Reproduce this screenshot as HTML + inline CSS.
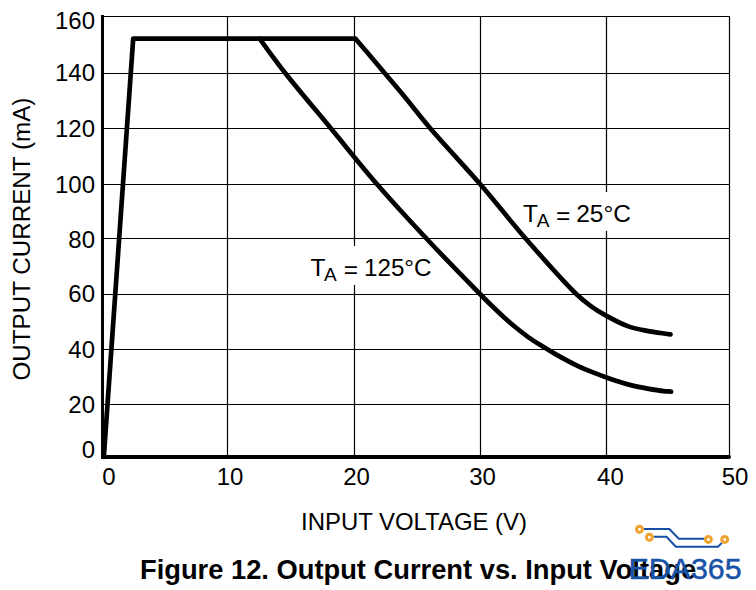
<!DOCTYPE html>
<html><head><meta charset="utf-8">
<style>
html,body{margin:0;padding:0;background:#fff;}
svg{display:block;}
text{font-family:"Liberation Sans",sans-serif;fill:#000;}
</style></head>
<body>
<svg width="756" height="590" viewBox="0 0 756 590">
<rect width="756" height="590" fill="#fff"/>
<g stroke="#000" stroke-width="1.2" fill="none">
<path d="M227.5 16V457M354.5 16V457M480.5 16V457M606.5 16V457M729.5 16V457"/>
<path d="M102 16.5H730M102 73.5H730M102 128.5H730M102 184.5H730M102 238.5H730M102 294.5H730M102 349.5H730M102 404.5H730"/>
</g>
<rect x="600" y="192" width="13" height="39" fill="#fff"/>
<rect x="348" y="246" width="13" height="39" fill="#fff"/>
<rect x="101" y="15" width="3" height="444" fill="#000"/>
<rect x="101" y="455" width="628" height="4" fill="#000"/><path d="M728 457H729" stroke="#000" stroke-width="4" stroke-linecap="round"/>
<g stroke="#000" stroke-width="4.7" fill="none" stroke-linejoin="round" stroke-linecap="round">
<path d="M103.8 457L133.2 38.7L355.5 38.7C365.33 50.30 376.25 63.16 385.00 73.50C392.03 81.81 397.19 87.78 404.00 96.00C412.12 105.81 420.03 116.34 430.40 128.50C444.29 144.79 464.39 165.87 480.50 184.50C496.09 202.53 509.88 220.51 525.60 238.50C541.93 257.18 564.67 283.01 576.80 294.50C582.81 300.19 586.21 302.71 591.20 306.30C596.12 309.83 600.85 312.78 606.50 315.90C613.04 319.51 621.18 323.86 628.30 326.40C634.65 328.66 640.38 329.61 647.00 330.90C654.36 332.33 662.67 333.23 670.50 334.40"/>
<path d="M259.5 38.7C268.20 50.30 275.53 60.71 285.60 73.50C298.49 89.88 315.79 110.09 331.00 128.50C346.35 147.09 361.42 166.19 377.30 184.50C393.22 202.85 409.50 220.46 426.40 238.50C443.86 257.13 469.44 283.25 480.50 294.50C485.33 299.41 487.35 301.46 491.00 305.00C494.86 308.75 499.03 312.70 503.10 316.40C507.10 320.03 511.01 323.56 515.20 327.00C519.50 330.53 524.06 334.08 528.60 337.30C533.03 340.44 537.63 343.29 542.10 346.10C546.43 348.82 550.09 351.11 555.00 353.90C561.32 357.49 569.90 362.23 577.00 365.60C583.39 368.63 589.23 370.91 595.60 373.40C602.19 375.98 609.52 378.71 615.90 380.80C621.46 382.62 626.40 384.10 631.70 385.40C636.96 386.69 642.29 387.65 647.60 388.60C652.89 389.55 659.16 390.62 663.50 391.10C666.49 391.43 668.57 391.43 671.10 391.60"/>
</g>
<g font-size="24" text-anchor="end">
<text x="95" y="29">160</text>
<text x="95" y="81">140</text>
<text x="95" y="137">120</text>
<text x="95" y="193">100</text>
<text x="95" y="248">80</text>
<text x="95" y="301.6">60</text>
<text x="95" y="358">40</text>
<text x="95" y="413">20</text>
<text x="95" y="457.7">0</text>
</g>
<g font-size="24" text-anchor="middle">
<text x="109" y="485">0</text>
<text x="230" y="485">10</text>
<text x="356.5" y="485">20</text>
<text x="482.5" y="485">30</text>
<text x="610.4" y="485">40</text>
<text x="735" y="485">50</text>
</g>
<text x="301" y="530" font-size="24.5" textLength="226" lengthAdjust="spacingAndGlyphs">INPUT VOLTAGE (V)</text>
<text transform="translate(30 380.6) rotate(-90)" font-size="24.2" textLength="283" lengthAdjust="spacingAndGlyphs">OUTPUT CURRENT (mA)</text>
<text x="523" y="222" font-size="24.5">T</text>
<text x="536.7" y="226.7" font-size="19">A</text>
<text x="556.1" y="223.5" font-size="24.5">=</text>
<text x="576.2" y="222" font-size="24.5">25°C</text>
<text x="310.4" y="276" font-size="24.5">T</text>
<text x="324.1" y="280.7" font-size="19">A</text>
<text x="343.8" y="277.5" font-size="24.5">=</text>
<text x="364" y="276" font-size="24.2">125°C</text>
<text x="140" y="579" font-size="27.3" font-weight="bold">Figure 12. Output Current vs. Input Voltage</text>
<g fill="none" stroke="#1650a6" stroke-width="2">
<path d="M643.9 529H669.4L678.8 538.7H704.3"/>
<path d="M653.8 536.8H666.5L675.9 546.7H718.1L721.8 542.9"/>
</g>
<g fill="none" stroke="#f0a22e" stroke-width="3">
<circle cx="639.5" cy="529.3" r="3"/>
<circle cx="649.4" cy="537.3" r="3"/>
<circle cx="708.4" cy="539.4" r="3"/>
<circle cx="724.7" cy="539.4" r="3"/>
</g>
<text x="628.4" y="578.8" font-size="30.4" style="fill:#1853a8;stroke:#1853a8;stroke-width:0.5">EDA365</text>
</svg>
</body></html>
